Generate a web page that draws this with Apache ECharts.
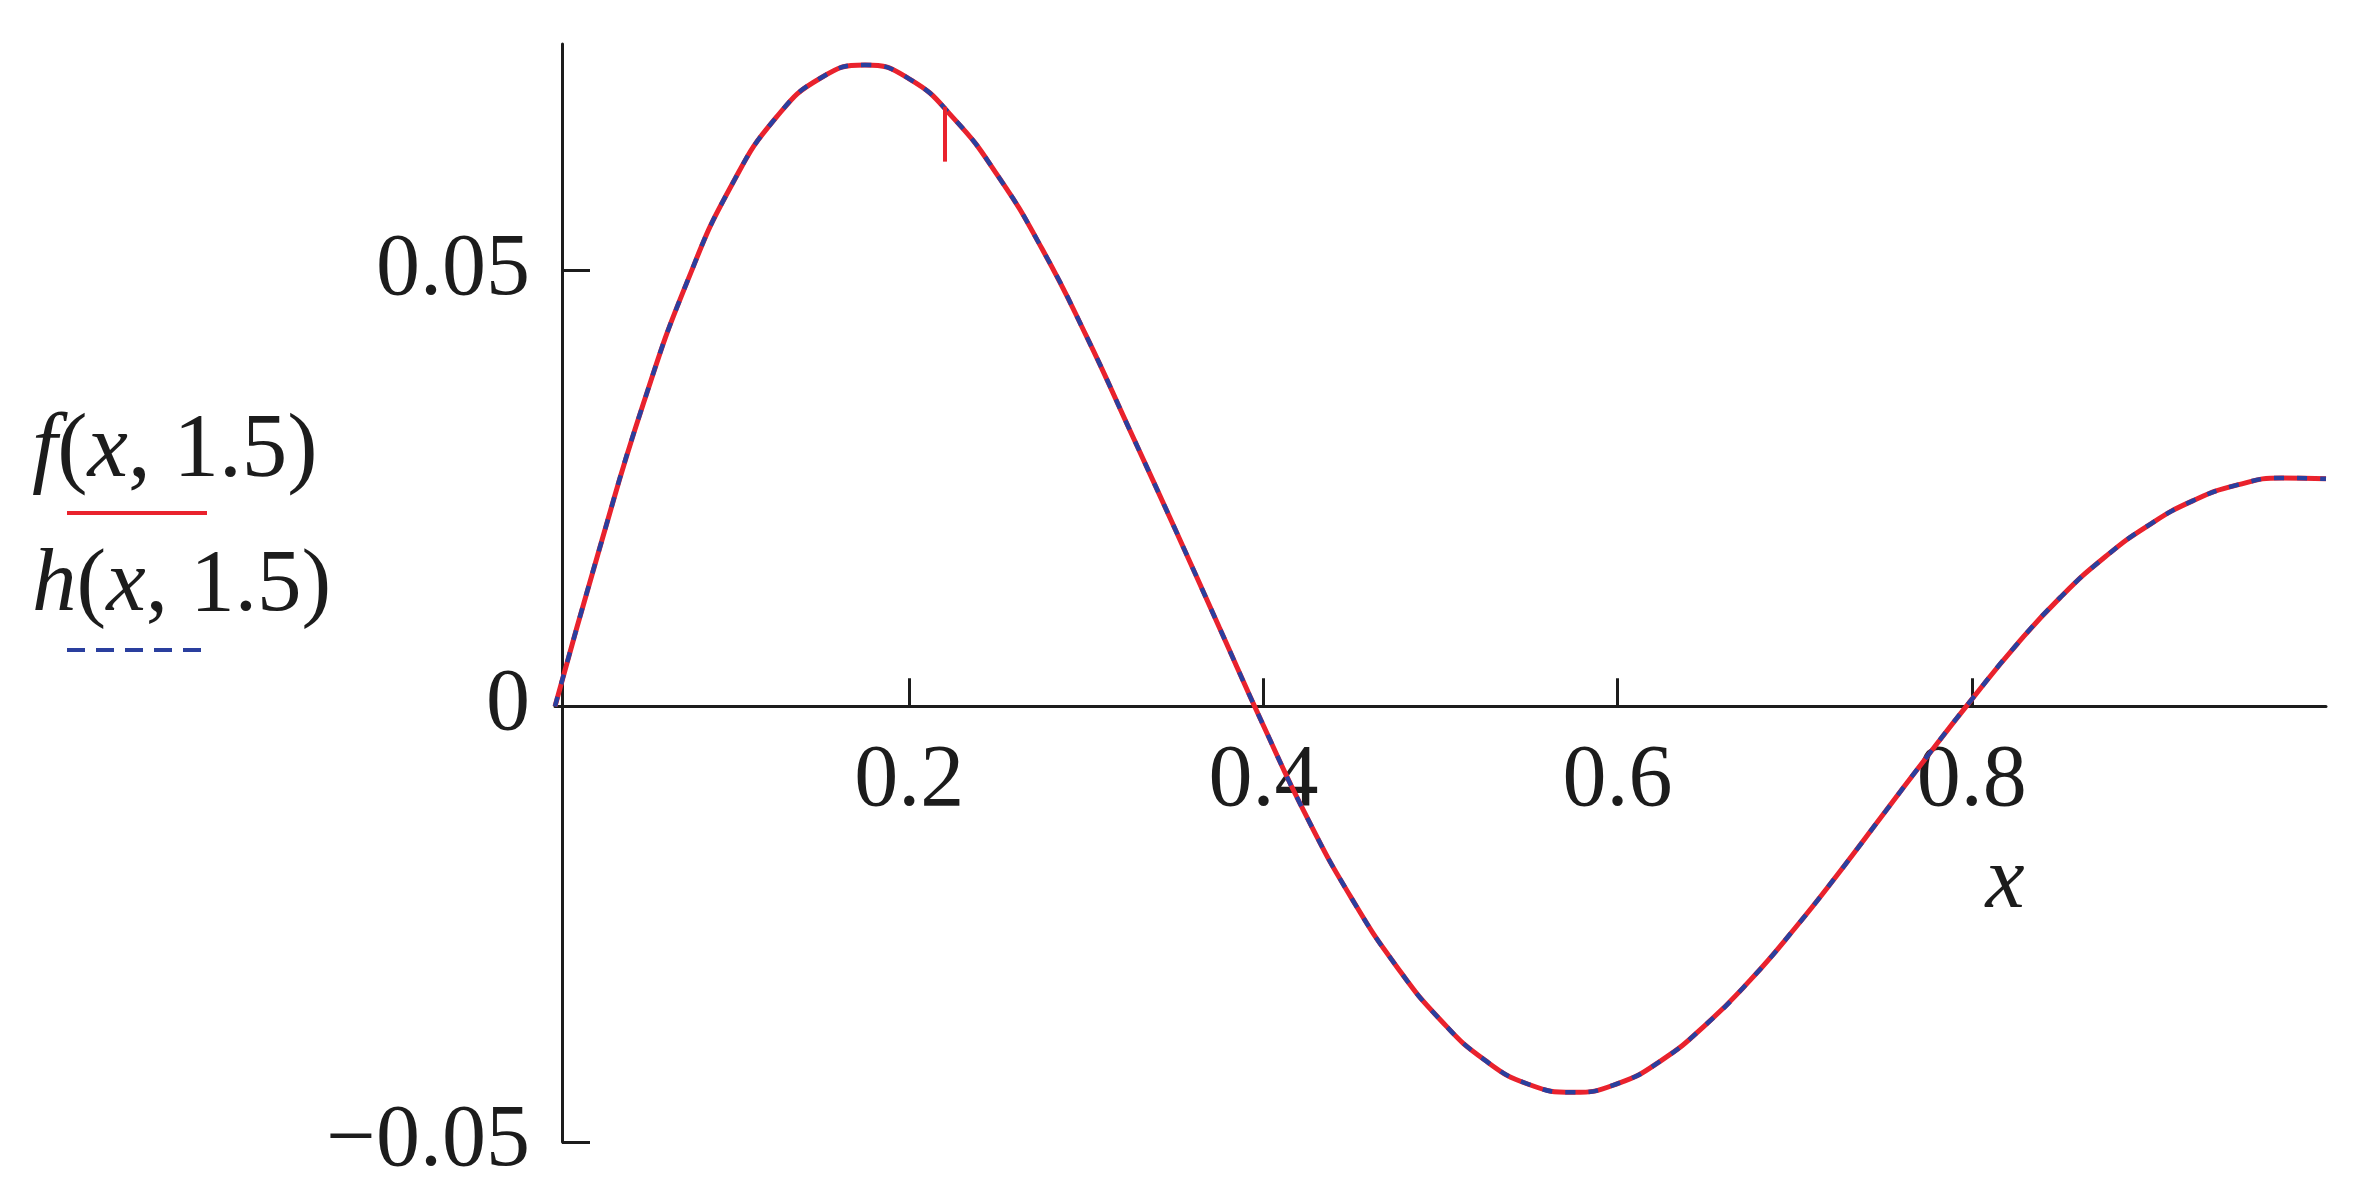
<!DOCTYPE html>
<html>
<head>
<meta charset="utf-8">
<title>f(x, 1.5) / h(x, 1.5)</title>
<script src="https://cdn.jsdelivr.net/npm/echarts@6/dist/echarts.min.js"></script>
<style>
html, body { margin: 0; padding: 0; background: #fff; }
#chart { width: 2379px; height: 1196px; }
</style>
</head>
<body>
<div id="chart"></div>
<script>
// x values
const xs = [0, 0.025, 0.05, 0.075, 0.1, 0.125, 0.15, 0.175, 0.2,
  0.225, 0.25, 0.275, 0.3, 0.325, 0.35, 0.375, 0.4, 0.425, 0.45,
  0.475, 0.5, 0.525, 0.55, 0.575, 0.6, 0.625, 0.65, 0.675, 0.7,
  0.725, 0.75, 0.775, 0.8, 0.825, 0.85, 0.875, 0.9, 0.925, 0.95,
  0.975, 1.0]
// f(x, 1.5)  solid red
const fVals = [0, 0.0180, 0.0348, 0.0489, 0.0599, 0.0676, 0.0721, 0.0736, 0.0720,
  0.0675, 0.0609, 0.0525, 0.0425, 0.0315, 0.0204, 0.0091, -0.0022, -0.0129, -0.0221,
  -0.0298, -0.0360, -0.0406, -0.0434, -0.0443, -0.0433, -0.0406, -0.0365, -0.0314, -0.0255,
  -0.0191, -0.0124, -0.0057, 0.0008, 0.0070, 0.0125, 0.0171, 0.0208, 0.0236, 0.0254,
  0.0262, 0.0261]
// h(x, 1.5)  dashed blue, lies on top of f
const hVals = [0, 0.0180, 0.0348, 0.0489, 0.0599, 0.0676, 0.0721, 0.0736, 0.0720,
  0.0675, 0.0609, 0.0525, 0.0425, 0.0315, 0.0204, 0.0091, -0.0022, -0.0129, -0.0221,
  -0.0298, -0.0360, -0.0406, -0.0434, -0.0443, -0.0433, -0.0406, -0.0365, -0.0314, -0.0255,
  -0.0191, -0.0124, -0.0057, 0.0008, 0.0070, 0.0125, 0.0171, 0.0208, 0.0236, 0.0254,
  0.0262, 0.0261]
// little red cursor mark near the peak
const markX = [0.2202, 0.2202]
const markY = [0.0688, 0.0625]

const xTicks = [0.2, 0.4, 0.6, 0.8]
const yLabels = [-0.05, 0, 0.05]
const yTicks = [-0.05, 0.05]
const yMin = -0.05
const yMax = 0.076

const serif = 'Liberation Serif'
const red = '#e9222d'
const blue = '#2a3f9e'
const ink = '#1c1c1c'

const gridTop = 44
const gridBottom = 54
const plotH = 1196 - gridTop - gridBottom
// x axis sits on y = 0, moved up from the grid bottom
const zeroShift = plotH * (0 - yMin) / (yMax - yMin)

function pairs (a, b) {
  return a.map((v, i) => [v, b[i]])
}

let myChart = echarts.init(document.getElementById('chart'))
let option = {
  animation: false,
  backgroundColor: '#fff',
  grid: { left: 555, right: 53, top: gridTop, bottom: gridBottom, containLabel: false, outerBoundsMode: 'none' },
  xAxis: {
    type: 'value',
    position: 'bottom',
    min: 0,
    max: 1,
    interval: 0.2,
    offset: -zeroShift,
    axisLine: { onZero: false, lineStyle: { color: ink, width: 3 } },
    axisTick: { inside: true, length: 28, customValues: xTicks, lineStyle: { color: ink, width: 3 } },
    axisLabel: {
      customValues: xTicks,
      margin: 32,
      fontFamily: serif,
      fontSize: 88,
      color: ink,
      formatter: v => String(v)
    },
    splitLine: { show: false }
  },
  yAxis: {
    type: 'value',
    min: yMin,
    max: yMax,
    interval: 0.05,
    offset: -7,
    axisLine: { show: true, onZero: false, lineStyle: { color: ink, width: 3 } },
    axisTick: { show: true, inside: true, length: 28, customValues: yTicks, lineStyle: { color: ink, width: 3 } },
    axisLabel: {
      customValues: yLabels,
      margin: 32,
      fontFamily: serif,
      fontSize: 88,
      color: ink,
      formatter: v => (v < 0 ? '\u2212' + String(Math.abs(v)) : String(v))
    },
    splitLine: { show: false }
  },
  series: [
    {
      name: 'f(x, 1.5)',
      type: 'line',
      data: pairs(xs, fVals),
      smooth: true,
      showSymbol: false,
      lineStyle: { color: red, width: 5 },
      z: 2
    },
    {
      name: 'h(x, 1.5)',
      type: 'line',
      data: pairs(xs, hVals),
      smooth: true,
      showSymbol: false,
      lineStyle: { color: blue, width: 4.5, type: [10, 13] },
      z: 3
    },
    {
      name: 'mark',
      type: 'line',
      data: pairs(markX, markY),
      showSymbol: false,
      lineStyle: { color: red, width: 4 },
      z: 4
    }
  ],
  graphic: [
    {
      type: 'text',
      x: 32,
      y: 452,
      style: {
        text: '{i|f}({i|x}, 1.5)',
        fontFamily: serif,
        fontSize: 91,
        fill: ink,
        align: 'left',
        verticalAlign: 'middle',
        rich: { i: { fontFamily: serif, fontSize: 91, fontStyle: 'italic', fill: ink } }
      }
    },
    {
      type: 'line',
      shape: { x1: 67, y1: 513, x2: 207, y2: 513 },
      style: { stroke: red, lineWidth: 4 }
    },
    {
      type: 'text',
      x: 32,
      y: 587,
      style: {
        text: '{i|h}({i|x}, 1.5)',
        fontFamily: serif,
        fontSize: 89,
        fill: ink,
        align: 'left',
        verticalAlign: 'middle',
        rich: { i: { fontFamily: serif, fontSize: 89, fontStyle: 'italic', fill: ink } }
      }
    },
    {
      type: 'line',
      shape: { x1: 67, y1: 650, x2: 201, y2: 650 },
      style: { stroke: blue, lineWidth: 4, lineDash: [18, 11] }
    },
    {
      type: 'text',
      x: 2005,
      y: 884,
      style: {
        text: 'x',
        fontFamily: serif,
        fontSize: 88,
        fontStyle: 'italic',
        fill: ink,
        align: 'center',
        verticalAlign: 'middle'
      }
    }
  ]
}
myChart.setOption(option)
</script>
</body>
</html>
